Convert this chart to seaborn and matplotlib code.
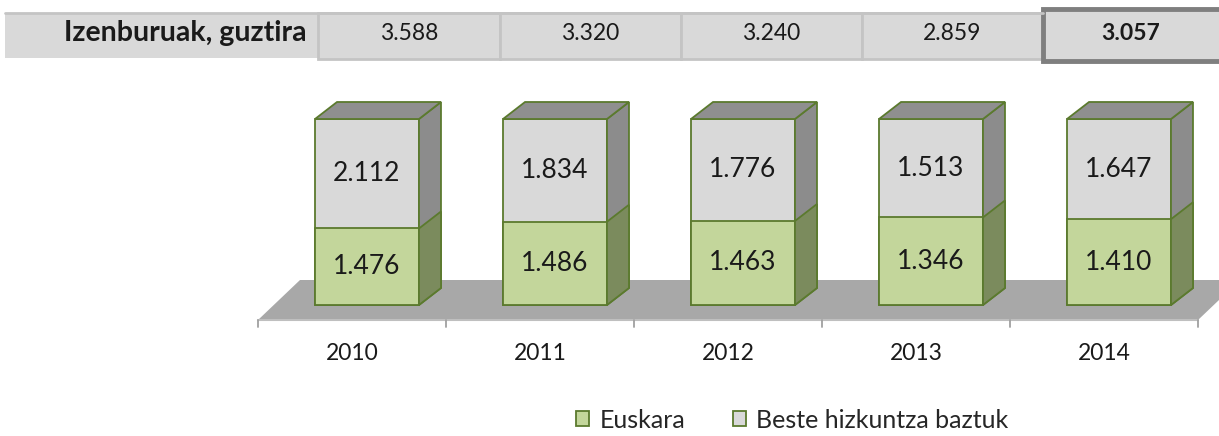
import numpy as np
import seaborn as sns
import matplotlib.pyplot as plt
from matplotlib.patches import Polygon, Rectangle, Patch

sns.set_style('white')
plt.rcParams['font.family'] = ['Lato', 'DejaVu Sans']

# data
years = ['2010', '2011', '2012', '2013', '2014']
euskara = [1476, 1486, 1463, 1346, 1410]
beste = [2112, 1834, 1776, 1513, 1647]
totals = [3588, 3320, 3240, 2859, 3057]
row_label = 'Izenburuak, guztira'
legend_labels = ['Euskara', 'Beste hizkuntza baztuk']

green = '#c3d69b'
green_side = '#7b8b5d'
edge = '#5b7a2e'
grey = '#d9d9d9'
grey_side = '#8c8c8c'

sums = np.array(euskara) + np.array(beste)
eus_pct = np.array(euskara) / sums * 100
full = np.full(len(years), 100.0)

fig = plt.figure(figsize=(12.19, 4.36), dpi=100)
W, H = 1219, 436

# chart axes in pixel layout: bar centres at 367 + 188*i, y=0 at px 305, y=100 at px 119
ax_l, ax_r, ax_t, ax_b = 240, 1219, 70, 380
ax = fig.add_axes([ax_l / W, (H - ax_b) / H, (ax_r - ax_l) / W, (ax_b - ax_t) / H])
ppx = 188.0
ppy = (305 - 119) / 100.0

sns.barplot(x=years, y=full, color=grey, width=0.553, edgecolor=edge, linewidth=1.3,
            saturation=1, ax=ax, zorder=3)
sns.barplot(x=years, y=eus_pct, color=green, width=0.553, edgecolor=edge, linewidth=1.3,
            saturation=1, ax=ax, zorder=5)

ax.set_xlim(-(367 - ax_l) / ppx, (ax_r - 367) / ppx)
ax.set_ylim(-(ax_b - 305) / ppy, 100 + (119 - ax_t) / ppy)
ax.axis('off')

# depth of the 3d boxes
dx = 22 / ppx
dy = 17 / ppy

bars = ax.patches[:]
n = len(years)
for k, p in enumerate(bars):
    x, y, w, h = p.get_x(), p.get_y(), p.get_width(), p.get_height()
    top_layer = k < n
    z = 3 if top_layer else 5
    side = Polygon([(x + w, y), (x + w + dx, y + dy), (x + w + dx, y + h + dy), (x + w, y + h)],
                   closed=True, facecolor=grey_side if top_layer else green_side,
                   edgecolor=edge, linewidth=1.3, zorder=z)
    ax.add_patch(side)
    if top_layer:
        top = Polygon([(x, y + h), (x + dx, y + h + dy), (x + w + dx, y + h + dy), (x + w, y + h)],
                      closed=True, facecolor='#8f8f8f', edgecolor=edge, linewidth=1.3, zorder=z)
        ax.add_patch(top)

# value labels
for i in range(n):
    cx = bars[i].get_x() + bars[i].get_width() / 2
    ax.text(cx, (eus_pct[i] + 100) / 2, f'{beste[i] / 1000:.3f}', ha='center', va='center',
            fontsize=19, color='#1a1a1a', zorder=10)
    ax.text(cx, eus_pct[i] / 2, f'{euskara[i] / 1000:.3f}', ha='center', va='center',
            fontsize=19, color='#1a1a1a', zorder=10)

# floor
fl = -(367 - 258) / ppx
fr = fl + n
yf = -(320 - 305) / ppy
fdx = 42 / ppx
fdy = 40 / ppy
floor = Polygon([(fl, yf), (fr, yf), (fr + fdx, yf + fdy), (fl + fdx, yf + fdy)],
                closed=True, facecolor='#a8a8a8', edgecolor='none', zorder=1)
ax.add_patch(floor)
ax.plot([fl, fr], [yf, yf], color='#bfbfbf', lw=1.5, zorder=2)
for k in range(n + 1):
    ax.plot([fl + k, fl + k], [yf, yf - 7 / ppy], color='#a0a0a0', lw=1.3, zorder=2, clip_on=False)
for i, yr in enumerate(years):
    ax.text(fl + i + 0.5, yf - 34 / ppy, yr, ha='center', va='center', fontsize=16.5, color='#1a1a1a')

# table row on top
tab = fig.add_axes([0, 0, 1, 1], zorder=-1)
tab.set_xlim(0, W)
tab.set_ylim(H, 0)
tab.axis('off')
edges_x = [318, 500, 681, 862, 1043, 1219]
tab.add_patch(Rectangle((5, 13), 313, 45, facecolor=grey, edgecolor='none'))
tab.plot([5, 1043], [13, 13], color='#c4c4c4', lw=2)
for j in range(n):
    tab.add_patch(Rectangle((edges_x[j], 13), edges_x[j + 1] - edges_x[j], 46,
                            facecolor=grey, edgecolor='#c4c4c4', lw=2))
tab.add_patch(Rectangle((1043, 9), 180, 52, facecolor=grey, edgecolor='#7f7f7f', lw=3.5))
tab.text(307, 33, row_label, ha='right', va='center', fontsize=20.5, fontweight='bold', color='#1a1a1a')
for j, t in enumerate(totals):
    cx = (edges_x[j] + edges_x[j + 1]) / 2
    tab.text(cx, 33, f'{t / 1000:.3f}', ha='center', va='center', fontsize=16.5,
             fontweight='bold' if j == n - 1 else 'normal', color='#1a1a1a')

handles = [Patch(facecolor=green, edgecolor=edge, lw=1.3), Patch(facecolor=grey, edgecolor=edge, lw=1.3)]
fig.legend(handles, legend_labels, loc='center', bbox_to_anchor=(792 / W, 16 / H), ncol=2,
           frameon=False, fontsize=18, handlelength=0.55, handleheight=0.55,
           handletextpad=0.4, columnspacing=1.9)

plt.savefig('out.png', dpi=100)
